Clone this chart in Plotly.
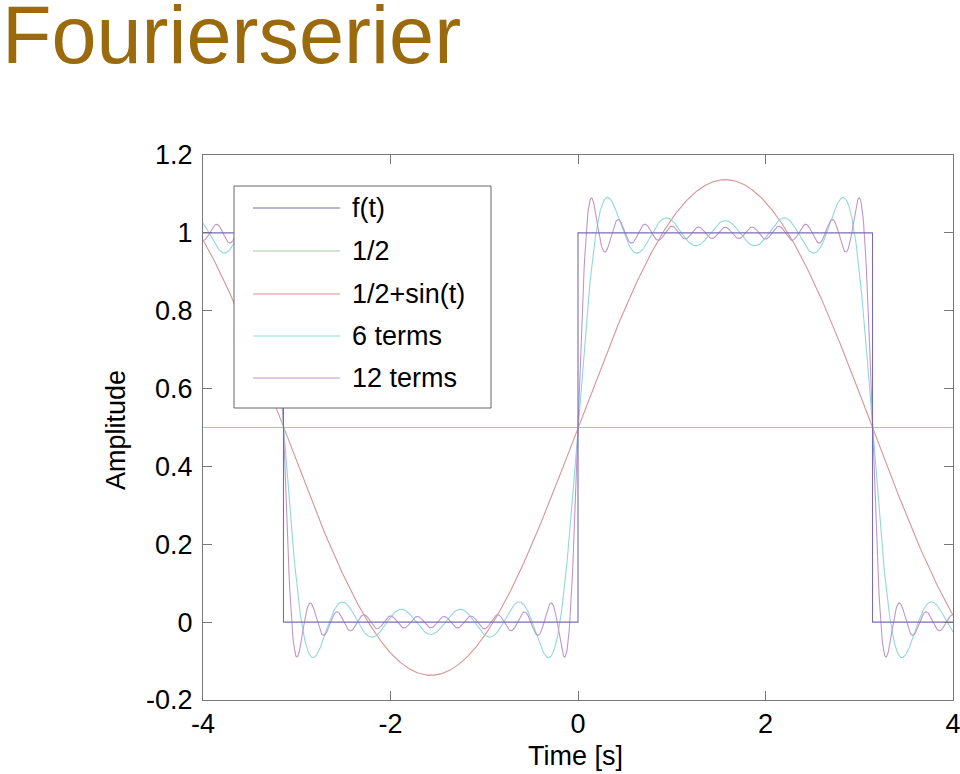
import numpy as np
import plotly.graph_objects as go

# ---- data ----
# square wave f(t) breakpoints
f_t = [-4.0, -np.pi, -np.pi, 0.0, 0.0, np.pi, np.pi, 4.0]
f_vals = [1, 1, 0, 0, 1, 1, 0, 0]
# constant term
half_t = [-4.0, 4.0]
half_vals = [0.5, 0.5]
# Fourier sine coefficients of the square wave (odd harmonics, 2/(pi k))
harmonics = [1, 3, 5, 7, 9, 11, 13, 15, 17, 19, 21]
amplitudes = [0.6366, 0.2122, 0.1273, 0.0909, 0.0707, 0.0579,
              0.0490, 0.0424, 0.0374, 0.0335, 0.0303]
offset = 0.5
series_names = ["f(t)", "1/2", "1/2+sin(t)", "6 terms", "12 terms"]
series_terms = [None, None, 1, 5, 11]   # number of sine terms used
colors = ["#7a6cb4", "#a8c8a8", "#d89494", "#92d8d8", "#c096c8"]

x_ticks = [-4, -2, 0, 2, 4]
x_ticktext = ["-4", "-2", "0", "2", "4"]
y_ticks = [-0.2, 0, 0.2, 0.4, 0.6, 0.8, 1, 1.2]
y_ticktext = ["-0.2", "0", "0.2", "0.4", "0.6", "0.8", "1", "1.2"]

t = np.linspace(-4, 4, 1601)

def partial_sum(n):
    y = np.full_like(t, offset)
    for k, a in zip(harmonics[:n], amplitudes[:n]):
        y = y + a * np.sin(k * t)
    return y

fig = go.Figure()
data_xy = {0: (f_t, f_vals), 1: (half_t, half_vals)}
for i in [2, 3, 4]:
    data_xy[i] = (t, partial_sum(series_terms[i]))
for i in [1, 2, 3, 4, 0]:
    x, y = data_xy[i]
    fig.add_trace(go.Scatter(x=x, y=y, mode="lines", name=series_names[i],
                             line=dict(color=colors[i], width=1.1),
                             showlegend=False))

L, R, T, B = 203, 7, 155, 74
W, H = 960, 774
pw, ph = W - L - R, H - T - B

def px_x(p):
    return (p - L) / pw

def px_y(p):
    return 1 - (p - T) / ph

tickfont = dict(family="Liberation Sans, Arial", size=27, color="#000")

fig.update_layout(
    width=W, height=H,
    margin=dict(l=L, r=R, t=T, b=B, autoexpand=False),
    paper_bgcolor="white", plot_bgcolor="white",
    xaxis=dict(range=[-4, 4], tickvals=x_ticks, ticktext=x_ticktext,
               ticks="inside", ticklen=9, ticklabeloverflow="allow",
               automargin=False,
               tickcolor="#777", showline=True, linecolor="#777", linewidth=1,
               mirror="ticks", showgrid=False, zeroline=False, tickfont=tickfont),
    yaxis=dict(range=[-0.2, 1.2], tickvals=y_ticks, ticktext=y_ticktext,
               ticks="inside", ticklen=9, ticklabeloverflow="allow",
               automargin=False,
               tickcolor="#777", showline=True, linecolor="#777", linewidth=1,
               mirror="ticks", showgrid=False, zeroline=False, tickfont=tickfont,
               ticklabelstandoff=4),
    showlegend=False,
)

annotations = [
    dict(text="Fourierserier", xref="paper", yref="paper", x=px_x(0), y=px_y(35),
         xanchor="left", yanchor="middle", showarrow=False,
         font=dict(family="Liberation Sans, Arial", size=81, color="#9a6a0c")),
    dict(text="Time [s]", xref="paper", yref="paper", x=px_x(575), y=px_y(756),
         xanchor="center", yanchor="middle", showarrow=False, font=tickfont),
    dict(text="Amplitude", xref="paper", yref="paper", x=px_x(116), y=px_y(430),
         xanchor="center", yanchor="middle", showarrow=False, textangle=-90,
         font=tickfont),
]

# manual legend
shapes = [dict(type="rect", xref="paper", yref="paper",
               x0=px_x(234), x1=px_x(491), y0=px_y(186), y1=px_y(408),
               line=dict(color="#666", width=1), fillcolor="white", layer="above")]
row_y = [208, 251, 294, 336, 378]
for i, name in enumerate(series_names):
    yy = px_y(row_y[i])
    shapes.append(dict(type="line", xref="paper", yref="paper",
                       x0=px_x(253), x1=px_x(340), y0=yy, y1=yy,
                       line=dict(color=colors[i], width=1.2), layer="above"))
    annotations.append(dict(text=name, xref="paper", yref="paper",
                            x=px_x(350), y=yy, xanchor="left", yanchor="middle",
                            showarrow=False, font=tickfont))

fig.update_layout(shapes=shapes, annotations=annotations)
fig.write_html("out.html", config={"displayModeBar": False},
               post_script="document.body.style.margin='0';document.body.style.overflow='hidden';")
